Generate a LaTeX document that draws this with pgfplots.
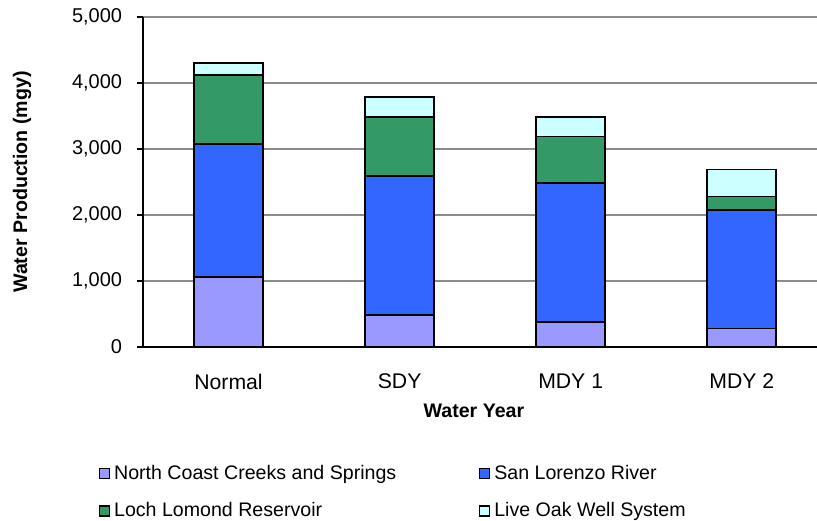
\documentclass[border=0pt]{standalone}
\usepackage{pgfplots}
\pgfplotsset{compat=1.18}
\usepackage{fontspec}
\setmainfont{Liberation Sans}

\definecolor{northcoast}{HTML}{9999FF}
\definecolor{sanlorenzo}{HTML}{3366FF}
\definecolor{lochlomond}{HTML}{339966}
\definecolor{liveoak}{HTML}{CCFFFF}

\begin{document}
\begin{tikzpicture}
\fontsize{9.8}{11.8}\selectfont
\begin{axis}[
    at={(0,0)}, anchor=south west,
    scale only axis,
    width=337pt, height=165pt,
    ybar stacked, bar width=34.5pt,
    xmin=-0.5, xmax=3.44,
    ymin=0, ymax=5000,
    xtick={0,1,2,3},
    xticklabels={Normal, SDY, MDY 1, MDY 2},
    extra x ticks={-0.5,0.5,1.5,2.5},
    extra x tick labels={},
    extra x tick style={major tick length=3pt, tick style={black, line width=0.6pt}, grid=none},
    major x tick style={draw=none},
    ytick={0,1000,...,5000},
    yticklabel style={/pgf/number format/1000 sep={,}, xshift=-4pt, font=\fontsize{10}{12}\selectfont},
    /pgf/number format/assume math mode=true,
    xticklabel style={yshift=-7pt, font=\fontsize{10.6}{12.6}\selectfont},
    tick align=outside, major tick length=3pt,
    ytick style={black, line width=0.6pt},
    ymajorgrids, grid style={gray!90, line width=0.6pt},
    axis x line*=bottom, axis y line*=left,
    axis line style={black, line width=0.8pt, -},
    xlabel={\bfseries Water Year},
    ylabel={\bfseries Water Production (mgy)},
    xlabel style={at={(axis description cs:0.491,-0.194)}, anchor=center},
    ylabel style={at={(axis description cs:-0.1795,0.5)}, anchor=center},
    label style={font=\fontsize{9.8}{11.8}\selectfont\bfseries},
    legend columns=2,
    legend cell align=left,
    legend style={at={(rel axis cs:-0.066,-0.345)}, anchor=north west, draw=none, fill=none,
        font=\fontsize{9.8}{11.8}\selectfont, row sep=6pt, inner sep=0pt,
        /tikz/every even column/.append style={column sep=0pt}},
    legend image code/.code={\draw[#1, line width=0.6pt] (0pt,-2.5pt) rectangle (5pt,2.5pt);},
    every axis plot/.append style={draw=black, line width=0.9pt},
]
\addplot[fill=northcoast] coordinates {(0,1060) (1,480) (2,380) (3,280)};
\addplot[fill=sanlorenzo] coordinates {(0,2010) (1,2110) (2,2110) (3,1800)};
\addplot[fill=lochlomond] coordinates {(0,1050) (1,890) (2,700) (3,200)};
\addplot[fill=liveoak] coordinates {(0,180) (1,310) (2,290) (3,410)};
\addlegendentry{\makebox[180.5pt][l]{North Coast Creeks and Springs}}
\addlegendentry{San Lorenzo River}
\addlegendentry{\makebox[180.5pt][l]{Loch Lomond Reservoir}}
\addlegendentry{Live Oak Well System}
\end{axis}
\pgfresetboundingbox
\path (-71.5pt,-86.5pt) rectangle (337pt,173.5pt);
\end{tikzpicture}
\end{document}
